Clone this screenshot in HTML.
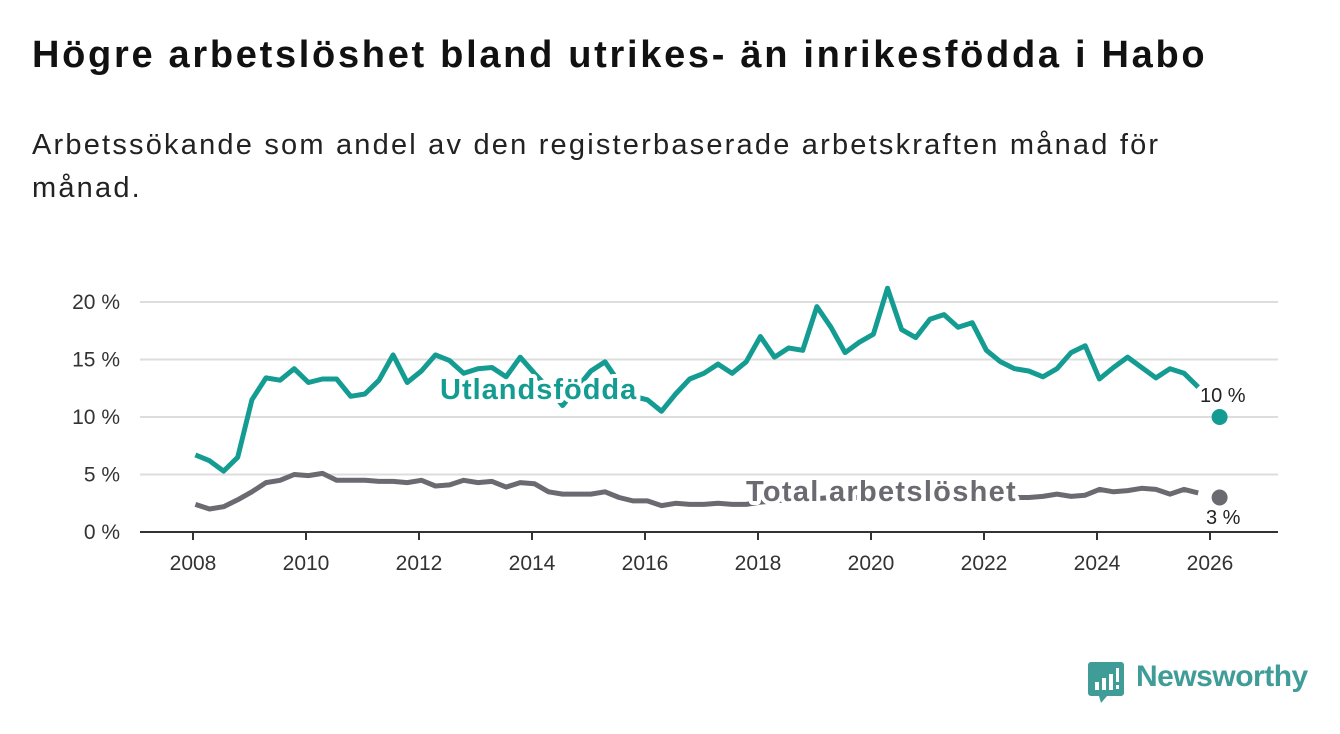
<!DOCTYPE html>
<html><head><meta charset="utf-8"><style>
body{margin:0;background:#fff;font-family:"Liberation Sans","DejaVu Sans",sans-serif;}
#wrap{position:relative;width:1340px;height:734px;overflow:hidden;}
h1{position:absolute;left:32px;top:34px;margin:0;font-size:38px;letter-spacing:2.7px;font-weight:bold;color:#111;white-space:nowrap;}
.sub{position:absolute;left:32px;top:124px;width:1175px;font-size:29px;letter-spacing:2.2px;line-height:43px;color:#222;}
</style></head><body><div id="wrap">
<h1>Högre arbetslöshet bland utrikes- än inrikesfödda i Habo</h1>
<div class="sub">Arbetssökande som andel av den registerbaserade arbetskraften månad för månad.</div>
<svg id="chart" width="1340" height="734" style="position:absolute;left:0;top:0"></svg>
<div style="position:absolute;left:1088px;top:662px;">
<svg width="40" height="42" style="position:absolute;left:0;top:0"><path d="M3 0h30a3 3 0 0 1 3 3v28a3 3 0 0 1-3 3h-14l-6 7-2-7H3a3 3 0 0 1-3-3V3a3 3 0 0 1 3-3z" fill="#3f9c97"/><rect x="7" y="20" width="4" height="8" fill="#fff"/><rect x="14" y="16" width="4" height="12" fill="#fff"/><rect x="21" y="12" width="4" height="16" fill="#fff"/><rect x="28" y="6" width="3" height="14" fill="#fff"/><rect x="28" y="23" width="3" height="4" fill="#fff"/></svg>
<span style="position:absolute;left:48px;top:-2px;font-size:30px;color:#3f9c97;font-weight:bold;letter-spacing:-0.5px;">Newsworthy</span></div>
</div>
<script>
const startYear = 2008;
const utlandsfodda = [6.7,6.2,5.3,6.5, 11.5,13.4,13.2,14.2, 13.0,13.3,13.3,11.8, 12.0,13.2,15.4,13.0, 14.0,15.4,14.9,13.8, 14.2,14.3,13.5,15.2, 13.8,12.5,11.0,12.5, 14.0,14.8,13.0,11.8, 11.5,10.5,12.0,13.3, 13.8,14.6,13.8,14.8, 17.0,15.2,16.0,15.8, 19.6,17.8,15.6,16.5, 17.2,21.2,17.6,16.9, 18.5,18.9,17.8,18.2, 15.8,14.8,14.2,14.0, 13.5,14.2,15.6,16.2, 13.3,14.3,15.2,14.3, 13.4,14.2,13.8,12.6, 10.0];
const total = [2.4,2.0,2.2,2.8, 3.5,4.3,4.5,5.0, 4.9,5.1,4.5,4.5, 4.5,4.4,4.4,4.3, 4.5,4.0,4.1,4.5, 4.3,4.4,3.9,4.3, 4.2,3.5,3.3,3.3, 3.3,3.5,3.0,2.7, 2.7,2.3,2.5,2.4, 2.4,2.5,2.4,2.4, 2.6,2.7,2.8,2.8, 2.9,3.0,3.0,3.0, 3.2,3.3,3.3,3.2, 3.2,3.1,3.0,3.0, 3.0,3.0,3.0,3.0, 3.1,3.3,3.1,3.2, 3.7,3.5,3.6,3.8, 3.7,3.3,3.7,3.4, 3.0];
const yTicks = [0,5,10,15,20];
const xTicks = [2008,2010,2012,2014,2016,2018,2020,2022,2024,2026];

const NS='http://www.w3.org/2000/svg';
const svg=document.getElementById('chart');
const X=y=>193+56.5*(y-2008);
const Y=v=>532-11.5*v;
function el(t,a,p){const e=document.createElementNS(NS,t);for(const k in a)e.setAttribute(k,a[k]);(p||svg).appendChild(e);return e;}
function tOf(i,n){return i===n-1? 2026.17 : startYear+i*0.25+1/24;}
yTicks.forEach(v=>{
  const g=el('line',{x1:140,x2:1278,y1:Y(v),y2:Y(v),stroke:v===0?'#333':'#ddd','stroke-width':2});
  
  
  const t=el('text',{x:120,y:Y(v)+7,'text-anchor':'end','font-size':21,fill:'#333'});
  t.textContent=v+' %';
  
  
});
xTicks.forEach(yr=>{
  const l=el('line',{x1:X(yr),x2:X(yr),y1:532,y2:540,stroke:'#333','stroke-width':2});
  
  
  const t=el('text',{x:X(yr),y:570,'text-anchor':'middle','font-size':21,fill:'#333'});
  t.textContent=yr;
  
  
});
function series(vals,color,name){
  const n=vals.length;
  const d=vals.slice(0,n-1).map((v,i)=>(i?'L':'M')+X(tOf(i,n)).toFixed(1)+' '+Y(v).toFixed(1)).join(' ');
  const p=el('path',{d:d,fill:'none',stroke:color,'stroke-width':5,'stroke-linejoin':'round'});
  
  
  const c=el('circle',{cx:X(tOf(n-1,n)),cy:Y(vals[n-1]),r:8,fill:color});
  
  
}
series(utlandsfodda,'#149c92','utlandsfodda');
series(total,'#6b6a70','total');
function lab(txt,x,y,size,color,w,ls,name){
  const t=el('text',{x:x,y:y,'font-size':size,fill:color,'font-weight':w,'letter-spacing':ls,stroke:'#fff','stroke-width':8,'paint-order':'stroke','stroke-linejoin':'round'});
  t.textContent=txt;
  
  
}
lab('Utlandsfödda',440,399,29,'#149c92','bold',1,'utlandsfodda-label');
lab('Total arbetslöshet',746,501,29,'#6b6a70','bold',1.3,'total-label');
lab(utlandsfodda[utlandsfodda.length-1]+' %',1200,402,20,'#222','normal',0,'utlandsfodda-value-label');
lab(total[total.length-1]+' %',1206,524,20,'#222','normal',0,'total-value-label');
</script>
</body></html>
